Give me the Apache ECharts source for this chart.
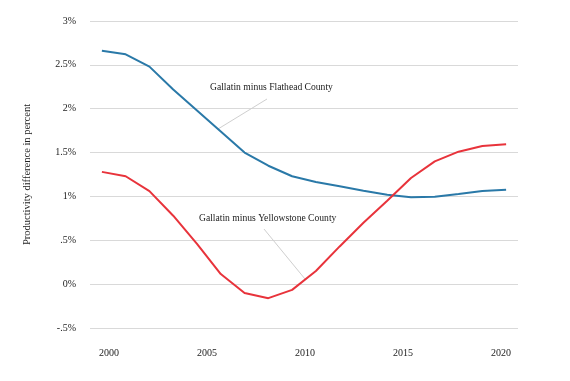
<!DOCTYPE html>
<html>
<head>
<meta charset="utf-8">
<script src="https://cdn.jsdelivr.net/npm/echarts@6/dist/echarts.min.js"></script>
<style>html,body{margin:0;padding:0;background:#fff;}#c{width:570px;height:381px;}</style>
</head>
<body>
<div id="c"></div>
<script>
// 18 evenly spaced observations across 2000-2020
const points = ['1','2','3','4','5','6','7','8','9','10','11','12','13','14','15','16','17','18'];
const flathead = [2.66, 2.62, 2.48, 2.22, 1.98, 1.74, 1.50, 1.35, 1.23, 1.165, 1.115, 1.065, 1.02, 0.99, 0.995, 1.027, 1.062, 1.076];
const yellowstone = [1.28, 1.23, 1.06, 0.78, 0.46, 0.115, -0.10, -0.16, -0.065, 0.15, 0.43, 0.70, 0.95, 1.21, 1.40, 1.51, 1.575, 1.594];
const yearTicks = [2000, 2005, 2010, 2015, 2020];
const yLabels = {'-0.5':'-.5%','0':'0%','0.5':'.5%','1':'1%','1.5':'1.5%','2':'2%','2.5':'2.5%','3':'3%'};

const FONT = '"Liberation Serif", "DejaVu Serif", serif';
const chart = echarts.init(document.getElementById('c'), null, {renderer: 'canvas'});
chart.setOption({
  animation: false,
  backgroundColor: '#ffffff',
  grid: {left: 90, right: 52, top: 21, bottom: 53, containLabel: false},
  xAxis: [
    {type: 'category', data: points, boundaryGap: true, show: false},
    {type: 'value', min: 1999.03, max: 2020.87, position: 'bottom',
     axisLine: {show: false}, axisTick: {show: false}, splitLine: {show: false},
     axisLabel: {customValues: yearTicks, margin: 20, color: '#222', fontFamily: FONT, fontSize: 10,
       formatter: v => String(Math.round(v))}}
  ],
  yAxis: {
    type: 'value', min: -0.5, max: 3, interval: 0.5,
    name: 'Productivity difference in percent', nameLocation: 'middle', nameGap: 57,
    nameTextStyle: {color: '#222', fontFamily: FONT, fontSize: 10.5},
    axisLine: {show: false}, axisTick: {show: false},
    axisLabel: {margin: 14, color: '#222', fontFamily: FONT, fontSize: 10,
      formatter: v => yLabels[String(Math.round(v*10)/10)] || ''},
    splitLine: {lineStyle: {color: '#d9d9d9', width: 1}}
  },
  series: [
    {type: 'line', name: 'Gallatin minus Flathead County', xAxisIndex: 0, data: flathead,
     symbol: 'none', lineStyle: {color: '#2a79a8', width: 2}, z: 3},
    {type: 'line', name: 'Gallatin minus Yellowstone County', xAxisIndex: 0, data: yellowstone,
     symbol: 'none', lineStyle: {color: '#e8333b', width: 2}, z: 4}
  ],
  graphic: [
    {type: 'line', shape: {x1: 267, y1: 99, x2: 218, y2: 129}, style: {stroke: '#cfcfcf', lineWidth: 1}, z: 1},
    {type: 'line', shape: {x1: 264, y1: 229, x2: 305, y2: 279}, style: {stroke: '#cfcfcf', lineWidth: 1}, z: 1},
    {type: 'text', x: 210, y: 87, style: {text: 'Gallatin minus Flathead County', fill: '#1a1a1a',
      font: '9.6px ' + FONT, textVerticalAlign: 'middle'}},
    {type: 'text', x: 199, y: 218, style: {text: 'Gallatin minus Yellowstone County', fill: '#1a1a1a',
      font: '9.6px ' + FONT, textVerticalAlign: 'middle'}}
  ]
});
</script>
</body>
</html>
